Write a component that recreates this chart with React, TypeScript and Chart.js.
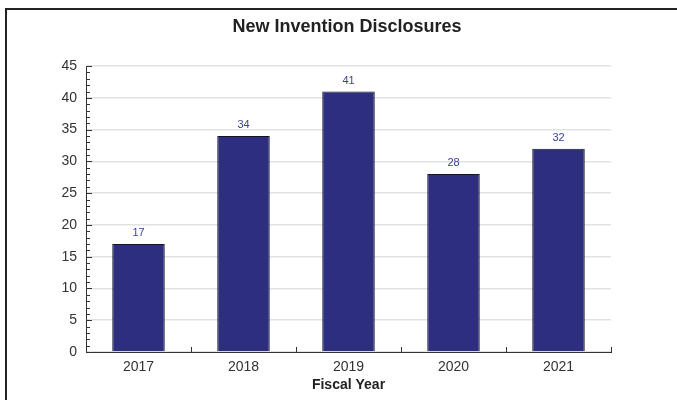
import React, { useEffect, useRef } from "react";
import { Chart, registerables } from "chart.js";

Chart.register(...registerables);

const categories = ["2017", "2018", "2019", "2020", "2021"];
const disclosures = [17, 34, 41, 28, 32];
const yTicks = [0, 5, 10, 15, 20, 25, 30, 35, 40, 45];

const FONT = "'Liberation Sans', Arial, sans-serif";

const decorPlugin = {
  id: "decor",
  afterLayout(chart: any) {
    // centre the title over the framed panel rather than the plot
    if (chart.titleBlock) {
      chart.titleBlock.left = 0;
      chart.titleBlock.right = 694;
    }
  },
  afterDraw(chart: any) {
    const ctx = chart.ctx;
    const area = chart.chartArea;
    const x = chart.scales.x;
    const y = chart.scales.y;
    ctx.save();
    // frame
    ctx.strokeStyle = "#222";
    ctx.lineWidth = 2;
    ctx.beginPath();
    ctx.moveTo(6, 400);
    ctx.lineTo(6, 9);
    ctx.lineTo(677, 9);
    ctx.stroke();
    // y ticks (inside)
    ctx.strokeStyle = "#333";
    ctx.lineWidth = 1;
    ctx.beginPath();
    for (let v = 0; v <= 45; v++) {
      const py = Math.round(y.getPixelForValue(v)) + 0.5;
      const len = v % 5 === 0 ? 6 : 4;
      ctx.moveTo(area.left, py);
      ctx.lineTo(area.left + len, py);
    }
    // x ticks at category boundaries (inside)
    const n = categories.length;
    for (let i = 1; i <= n; i++) {
      const px = Math.round(x.getPixelForValue(i - 0.5)) + 0.5;
      ctx.moveTo(px, area.bottom);
      ctx.lineTo(px, area.bottom - 5);
    }
    ctx.stroke();
    // data labels
    const meta = chart.getDatasetMeta(0);
    ctx.fillStyle = "#3d4199";
    ctx.font = `11px ${FONT}`;
    ctx.textAlign = "center";
    ctx.textBaseline = "middle";
    meta.data.forEach((bar: any, i: number) => {
      ctx.fillText(String(disclosures[i]), bar.x, bar.y - 11);
    });
    ctx.restore();
  },
};

export default function App() {
  const ref = useRef<HTMLCanvasElement | null>(null);
  useEffect(() => {
    document.body.style.margin = "0";
    const chart = new Chart(ref.current as HTMLCanvasElement, {
      type: "bar",
      data: {
        labels: categories,
        datasets: [
          {
            data: disclosures,
            backgroundColor: "#2d2e7d",
            borderColor: "#15152a",
            borderWidth: 1,
            categoryPercentage: 1,
            barPercentage: 0.5,
          },
        ],
      },
      options: {
        animation: false,
        responsive: false,
        maintainAspectRatio: false,
        layout: { padding: { left: 0, right: 66, top: 16, bottom: 6 } },
        plugins: {
          legend: { display: false },
          tooltip: { enabled: false },
          title: {
            display: true,
            text: "New Invention Disclosures",
            color: "#222",
            font: { family: FONT, size: 18, weight: "bold" },
            padding: { top: 0, bottom: 28.5 },
          },
        },
        scales: {
          x: {
            afterFit(scale: any) {
              scale.height = 42;
            },
            grid: { display: false, drawTicks: false },
            border: { display: true, color: "#333", width: 1 },
            ticks: { color: "#333", font: { family: FONT, size: 14 }, padding: 7 },
            title: {
              display: true,
              text: "Fiscal Year",
              color: "#222",
              font: { family: FONT, size: 14, weight: "bold" },
              padding: { top: 0, bottom: 0 },
            },
          },
          y: {
            min: 0,
            max: 45,
            afterFit(scale: any) {
              scale.width = 86;
            },
            grid: { color: "#e2e2e2", lineWidth: 1.5, drawTicks: false },
            border: { display: true, color: "#333", width: 1 },
            ticks: {
              stepSize: 5,
              color: "#333",
              font: { family: FONT, size: 14 },
              padding: 9,
              callback: (v: any) => (yTicks.includes(Number(v)) ? String(v) : ""),
            },
          },
        },
      },
      plugins: [decorPlugin],
    });
    return () => chart.destroy();
  }, []);
  return (
    <div style={{ position: "absolute", left: 0, top: 0, width: 677, height: 400 }}>
      <canvas ref={ref} width={677} height={400} style={{ width: 677, height: 400 }} />
    </div>
  );
}
